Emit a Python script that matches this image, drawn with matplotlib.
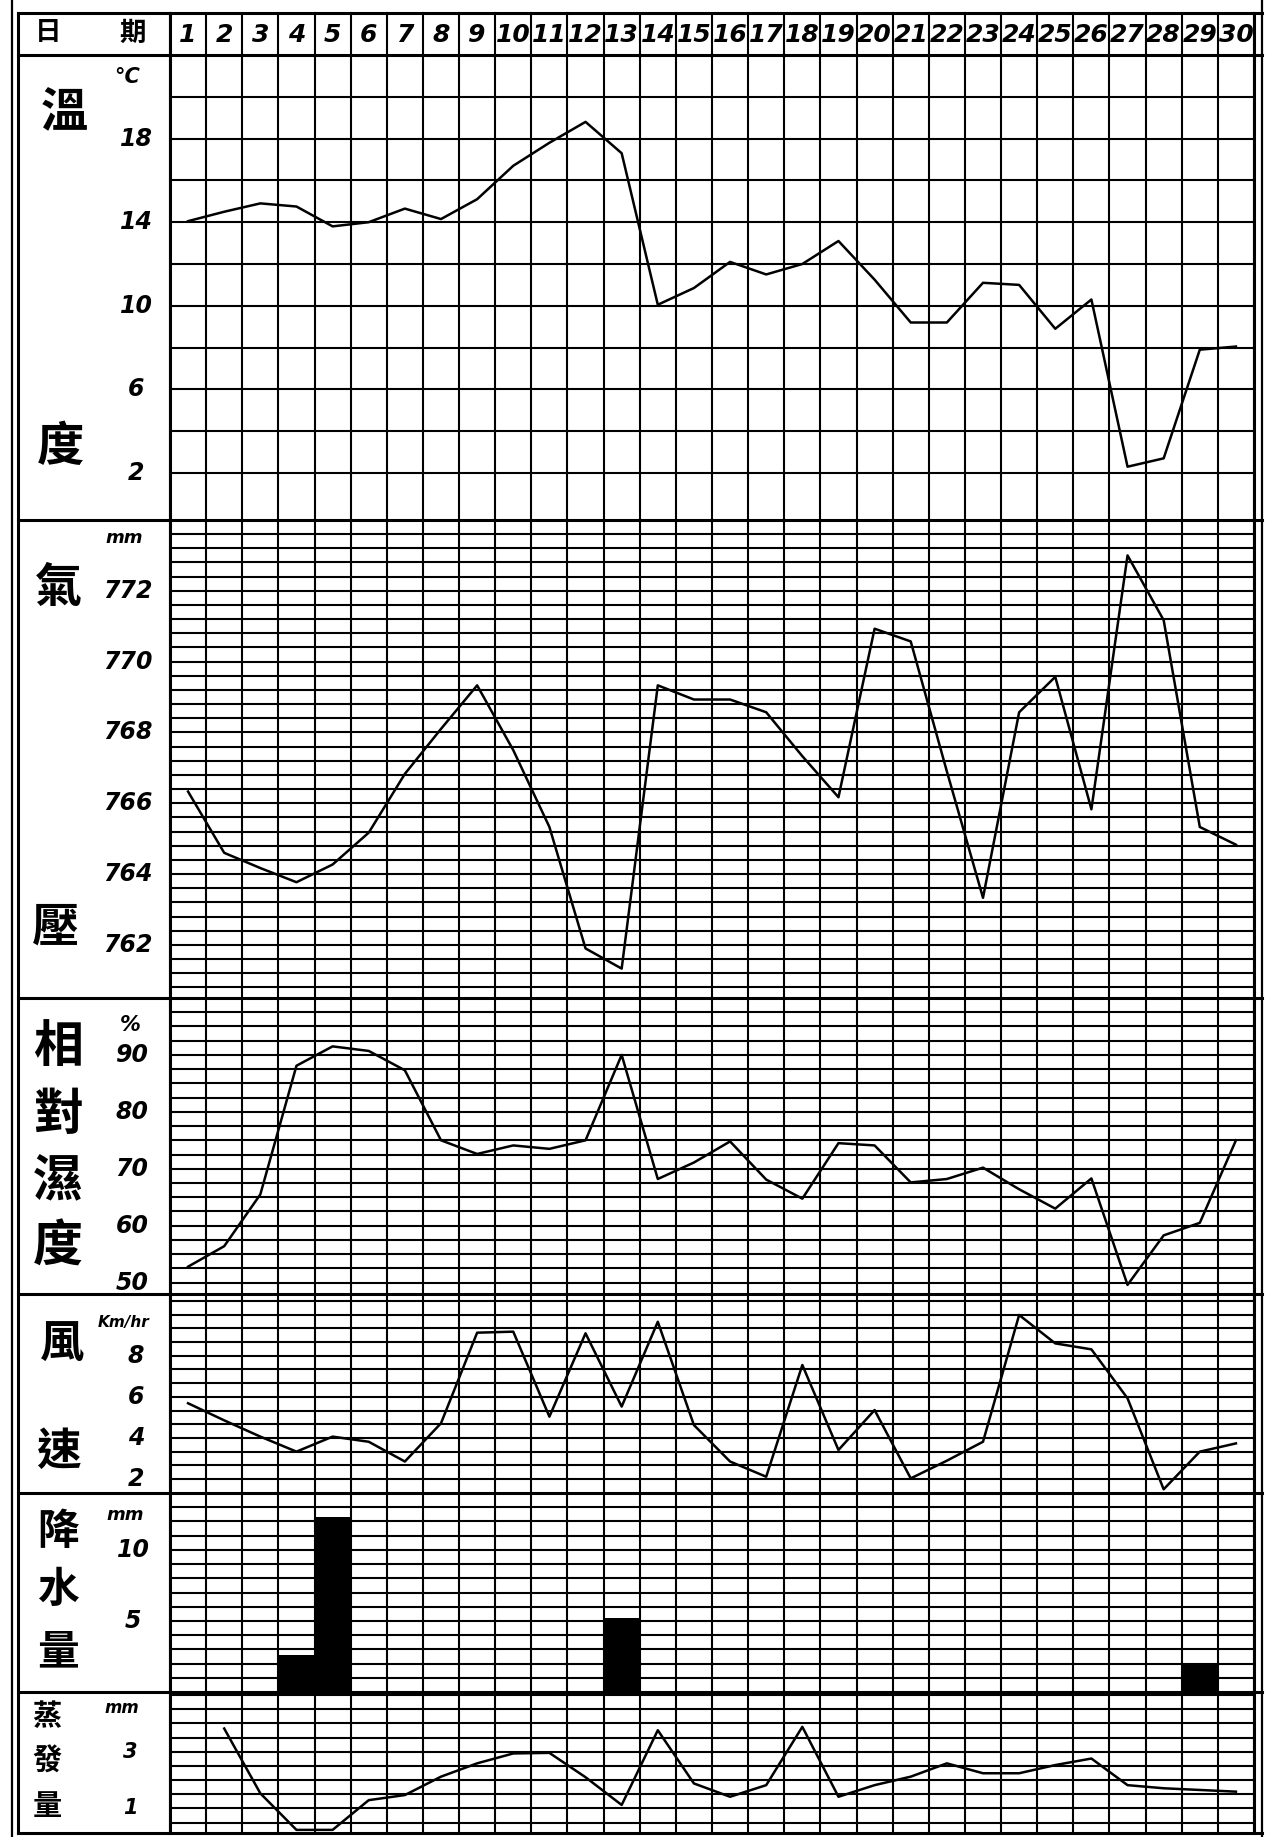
import matplotlib
matplotlib.use('Agg')
import matplotlib.pyplot as plt
from matplotlib.lines import Line2D
from matplotlib.transforms import blended_transform_factory
import numpy as np

# daily values
days = np.arange(1, 31)
temp = [14.05, 14.5, 14.9, 14.75, 13.8, 14.0, 14.65, 14.15, 15.1, 16.7,
        17.8, 18.8, 17.3, 10.05, 10.85, 12.1, 11.5, 12.0, 13.1, 11.25,
        9.2, 9.2, 11.1, 11.0, 8.9, 10.3, 2.3, 2.7, 7.9, 8.05]
pressure = [766.33, 764.6, 764.17, 763.77, 764.27, 765.17, 766.83, 768.1, 769.33, 767.5,
            765.33, 761.9, 761.33, 769.33, 768.93, 768.93, 768.57, 767.33, 766.17, 770.93,
            770.57, 766.9, 763.33, 768.57, 769.57, 765.83, 773.0, 771.17, 765.33, 764.83]
humidity = [52.8, 56.4, 65.5, 88.1, 91.5, 90.7, 87.3, 75.0, 72.6, 74.1,
            73.5, 75.0, 90.0, 68.2, 71.1, 74.8, 68.1, 64.75, 74.5, 74.1,
            67.6, 68.2, 70.2, 66.4, 63.0, 68.3, 49.6, 58.3, 60.5, 75.0]
wind = [5.69, 4.86, 4.07, 3.34, 4.07, 3.82, 2.86, 4.72, 9.12, 9.17,
        5.04, 9.09, 5.53, 9.65, 4.63, 2.86, 2.12, 7.55, 3.42, 5.36,
        2.04, 2.9, 3.82, 9.98, 8.6, 8.31, 5.93, 1.51, 3.34, 3.74]
precip_days = [4, 5, 13, 29]
precip = [2.6, 12.3, 5.2, 1.9]
evap_days = np.arange(2, 31)
evap = [3.82, 1.53, 0.24, 0.24, 1.29, 1.47, 2.12, 2.59, 2.94,
        2.96, 2.1, 1.12, 3.76, 1.88, 1.41, 1.82, 3.88, 1.41, 1.82,
        2.12, 2.59, 2.24, 2.24, 2.53, 2.76, 1.82, 1.71, 1.65, 1.59]

temp_ticks = [18, 14, 10, 6, 2]
pres_ticks = [772, 770, 768, 766, 764, 762]
hum_ticks = [90, 80, 70, 60, 50]
wind_ticks = [8, 6, 4, 2]
precip_ticks = [10, 5]
evap_ticks = [3, 1]

W, H = 1266, 1837
fig = plt.figure(figsize=(W / 100, H / 100), dpi=100)
fig.patch.set_facecolor('white')

CJK = ['Noto Sans CJK TC', 'DejaVu Sans']
PL, PR = 170, 1254
FRAME_L, FRAME_R = 18, 1262


def fx(x):
    return x / W


def fy(y):
    return 1 - y / H


def hline(y, x0=FRAME_L, x1=FRAME_R, lw=2.2):
    fig.add_artist(Line2D([fx(x0), fx(x1)], [fy(y), fy(y)],
                          transform=fig.transFigure, color='k', lw=lw))


def vline(x, y0, y1, lw=2.2):
    fig.add_artist(Line2D([fx(x), fx(x)], [fy(y0), fy(y1)],
                          transform=fig.transFigure, color='k', lw=lw))


def make_panel(top, bottom, ylim, step, start):
    ax = fig.add_axes([fx(PL), fy(bottom), (PR - PL) / W, (bottom - top) / H])
    ax.set_xlim(0.5, 30.5)
    ax.set_ylim(*ylim)
    ax.set_axis_off()
    for b in np.arange(0.5, 31, 1):
        ax.axvline(b, color='k', lw=1.5, clip_on=False)
    for v in np.arange(start, ylim[1] - 1e-6, step):
        ax.axhline(v, color='k', lw=1.5)
    return ax


def ylabels(ax, vals, x=134, size=17):
    tr = blended_transform_factory(fig.transFigure, ax.transData)
    for v in vals:
        ax.text(fx(x), v, str(v), transform=tr, ha='center', va='center',
                fontsize=size, style='italic', weight='bold')


def cjk(x, y, s, size):
    fig.text(fx(x), fy(y), s, ha='center', va='center', fontsize=size,
             family=CJK, weight='bold')


def unit(x, y, s, size=14):
    fig.text(fx(x), fy(y), s, ha='center', va='center', fontsize=size,
             style='italic', weight='bold')


# header row
ax_h = fig.add_axes([fx(PL), fy(55), (PR - PL) / W, (55 - 13) / H])
ax_h.set_xlim(0.5, 30.5)
ax_h.set_ylim(0, 1)
ax_h.set_axis_off()
for b in np.arange(0.5, 31, 1):
    ax_h.axvline(b, color='k', lw=1.5, clip_on=False)
for d in days:
    ax_h.text(d, 0.48, str(d), ha='center', va='center', fontsize=18,
              style='italic', weight='bold')
cjk(48, 33, '日', 19)
cjk(133, 33, '期', 19)

# temperature
ax_t = make_panel(55, 520, (-0.25, 22), 2, 2)
ax_t.plot(days, temp, color='k', lw=1.8)
ylabels(ax_t, temp_ticks, x=136)
unit(127, 77, '°C', 15)
cjk(64, 113, '溫', 34)
cjk(60, 447, '度', 34)

# pressure
ax_p = make_panel(520, 998, (760.5, 774), 0.4, 760.8)
ax_p.plot(days, pressure, color='k', lw=1.8)
ylabels(ax_p, pres_ticks, x=128)
unit(124, 538, 'mm', 13)
cjk(59, 588, '氣', 34)
cjk(56, 928, '壓', 34)

# relative humidity
ax_rh = make_panel(998, 1294, (48, 100), 2.5, 50)
ax_rh.plot(days, humidity, color='k', lw=1.8)
ylabels(ax_rh, hum_ticks, x=132)
unit(130, 1025, '%', 15)
for ch, yy in zip('相對濕度', [1047, 1116, 1181, 1247]):
    cjk(58, yy, ch, 36)

# wind speed
ax_w = make_panel(1294, 1493, (1.33, 11.0), 2 / 3, 2)
ax_w.plot(days, wind, color='k', lw=1.8)
ylabels(ax_w, wind_ticks, x=136)
unit(124, 1323, 'Km/hr', 11)
cjk(62, 1345, '風', 32)
cjk(58, 1452, '速', 32)

# precipitation
ax_r = make_panel(1493, 1692, (0, 14), 1, 1)
ax_r.bar(precip_days, precip, width=1.0, color='k')
ylabels(ax_r, precip_ticks, x=133)
unit(125, 1515, 'mm', 13)
for ch, yy in zip('降水量', [1532, 1590, 1652]):
    cjk(58, yy, ch, 30)

# evaporation
ax_e = make_panel(1692, 1833, (0.13, 5.11), 0.5, 0.5)
ax_e.plot(evap_days, evap, color='k', lw=1.8)
ylabels(ax_e, evap_ticks, x=130, size=15)
unit(122, 1708, 'mm', 12)
for ch, yy in zip('蒸發量', [1716, 1761, 1806]):
    cjk(47, yy, ch, 21)

# frame and panel separators
for y in [13, 55, 520, 998, 1294, 1493, 1692, 1833]:
    hline(y)
vline(12, 0, 1837, lw=1.6)
vline(FRAME_L, 13, 1833)
vline(PL, 13, 1833)
vline(PR, 13, 1833)
vline(FRAME_R, 0, 1837, lw=1.6)

fig.savefig('out.png', dpi=100, facecolor='white')
